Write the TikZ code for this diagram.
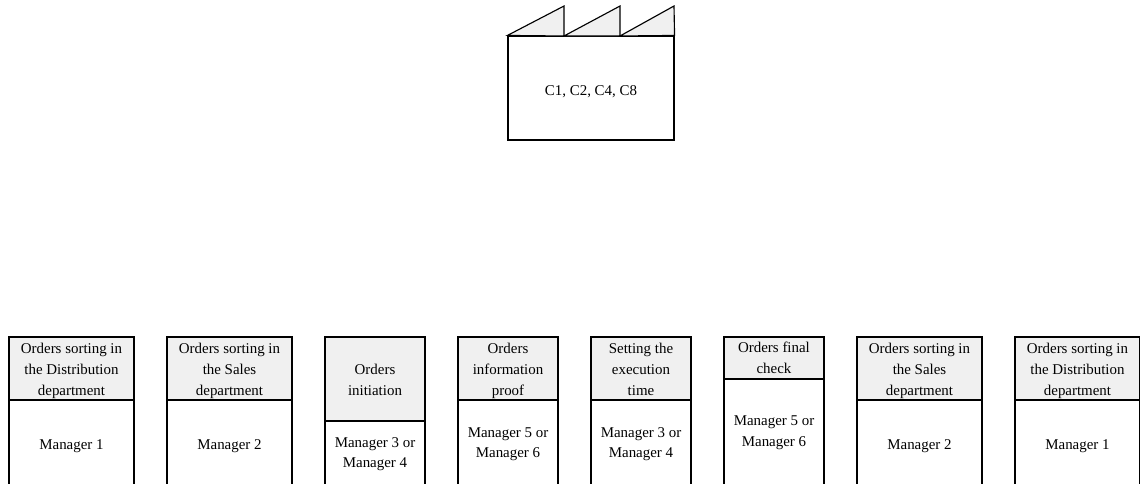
\documentclass[tikz,border=0pt]{standalone}
\usepackage{fontspec}
\setmainfont{Liberation Serif}
\usepackage{tikz}
\newcommand{\titlestrut}{\rule[-2.5pt]{0pt}{15pt}}

\begin{document}
\begin{tikzpicture}
    [x=0.75pt, y=-0.75pt, line width=0.85pt,
    hd/.style={rectangle, draw, fill=black!6, align=center, inner sep=0pt, font=\fontsize{11.2}{15.4}\selectfont},
    wide/.style={hd, minimum width=93.75pt},
    thin/.style={hd, minimum width=75pt},
    title/.style={execute at begin node=\titlestrut, execute at end node=\titlestrut},
    body/.style={fill=white},
    tooth/.style={draw, fill=black!6}]
    \useasboundingbox (0,0) rectangle (1140,483);
    \begin{scope}
    % factory
    \node[hd, body, minimum width=124.5pt, minimum height=78pt] (w) at (591,88) {\raisebox{-5.3pt}[0pt][0pt]{C1, C2, C4, C8}};
    \coordinate (t1) at (564,6);
    \coordinate (t2) at (620,6);
    \coordinate (t3) at (674,6);
    \coordinate (b1) at (564,36);
    \coordinate (b2) at (620,36);
    \draw[tooth] (w.north west) -- (t1) -- (b1) -- cycle;
    \draw[tooth] (b1) -- (t2) -- (b2) -- cycle;
    \draw[tooth] (b2) -- (t3) -- (w.north east) -- cycle;
    % activities, their lower edge goes under the manager box
    \node[wide, title, minimum height=51pt] (h1) at (71.5,371) {Orders sorting in\\the Distribution\\department};
    \node[wide, title, minimum height=51pt] (h2) at (229.5,371) {Orders sorting in\\the Sales\\department};
    \node[thin, title, minimum height=66.75pt] (h3) at (375,381.5) {Orders\\initiation};
    \node[thin, title, minimum height=51pt] (h4) at (508,371) {Orders\\information\\proof};
    \node[thin, title, minimum height=51pt] (h5) at (641,371) {Setting the\\execution\\time};
    \node[thin, title, minimum height=33.75pt] (h6) at (774,359.5) {Orders final\\check};
    \node[wide, title, minimum height=51pt] (h7) at (919.5,371) {Orders sorting in\\the Sales\\department};
    \node[wide, title, minimum height=51pt] (h8) at (1077.5,371) {Orders sorting in\\the Distribution\\department};
    % managers
    \node[wide, body, minimum height=69pt] (m1) at (71.5,446) {Manager 1};
    \node[wide, body, minimum height=69pt] (m2) at (229.5,446) {Manager 2};
    \node[thin, body, minimum height=49.5pt] (m3) at (375,454) {Manager 3 or\\Manager 4};
    \node[thin, body, minimum height=66pt] (m4) at (508,444) {Manager 5 or\\Manager 6};
    \node[thin, body, minimum height=66pt] (m5) at (641,444) {Manager 3 or\\Manager 4};
    \node[thin, body, minimum height=80.25pt] (m6) at (774,432.5) {Manager 5 or\\Manager 6};
    \node[wide, body, minimum height=69pt] (m7) at (919.5,446) {Manager 2};
    \node[wide, body, minimum height=69pt] (m8) at (1077.5,446) {Manager 1};
    \end{scope}
\end{tikzpicture}
\end{document}
